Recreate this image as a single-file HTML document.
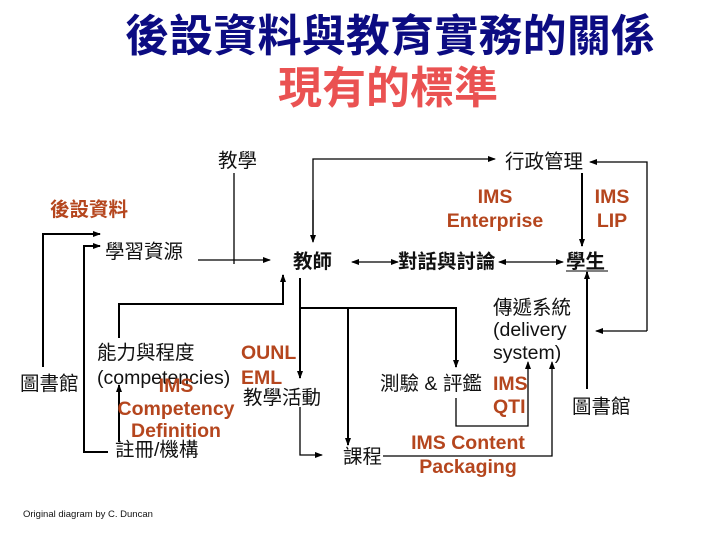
<!DOCTYPE html>
<html><head><meta charset="utf-8"><style>
html,body{margin:0;padding:0;background:#fff;width:720px;height:540px;overflow:hidden}
svg{display:block}
text{font-family:"Liberation Sans","Noto Sans CJK TC",sans-serif}
.t{font-size:19.5px;fill:#111}
.o{font-size:19.5px;font-weight:bold;fill:#b5461e}
</style></head><body>
<svg width="720" height="540" viewBox="0 0 720 540">
<defs>
<marker id="a" markerWidth="8" markerHeight="8" refX="7" refY="4" orient="auto" markerUnits="userSpaceOnUse"><path d="M0,1 L8,4 L0,7 z" fill="#000"/></marker>
<marker id="s" markerWidth="8" markerHeight="8" refX="1" refY="4" orient="auto" markerUnits="userSpaceOnUse"><path d="M8,1 L0,4 L8,7 z" fill="#000"/></marker>
</defs>
<text x="390" y="51" text-anchor="middle" font-size="44" font-weight="bold" fill="#0c0c82" textLength="530">後設資料與教育實務的關係</text>
<text x="388" y="103" text-anchor="middle" font-size="44" font-weight="bold" fill="#ea5252" textLength="220">現有的標準</text>

<g fill="none" stroke="#000" stroke-width="1.3">
<line x1="234" y1="173" x2="234" y2="264"/>
<line x1="198" y1="260" x2="270" y2="260" marker-end="url(#a)"/>
<polyline points="313,242 313,159 495,159" marker-end="url(#a)"/>
<line x1="313" y1="200" x2="313" y2="242" marker-end="url(#a)"/>
<polyline points="300,407 300,455 322,455" marker-end="url(#a)"/>
<polyline points="456,398 456,426 528,426 528,362" marker-end="url(#a)"/>
<polyline points="383,456 552,456 552,362" marker-end="url(#a)"/>
<line x1="352" y1="262" x2="398" y2="262" marker-start="url(#s)" marker-end="url(#a)"/>
<line x1="499" y1="262" x2="563" y2="262" marker-start="url(#s)" marker-end="url(#a)"/>
<polyline points="647,331 647,162 590,162" marker-end="url(#a)"/>
<line x1="647" y1="331" x2="596" y2="331" marker-end="url(#a)"/>
</g>
<g fill="none" stroke="#000" stroke-width="2">
<polyline points="43,367 43,234 100,234" marker-end="url(#a)"/>
<polyline points="108,452 84,452 84,246 100,246" marker-end="url(#a)"/>
<polyline points="119,338 119,304 283,304 283,275" marker-end="url(#a)"/>
<line x1="119" y1="442" x2="119" y2="385" marker-end="url(#a)"/>
<line x1="300" y1="278" x2="300" y2="378" marker-end="url(#a)"/>
<polyline points="300,308 456,308 456,367" marker-end="url(#a)"/>
<line x1="348" y1="308" x2="348" y2="445" marker-end="url(#a)"/>
<line x1="582" y1="173" x2="582" y2="246" marker-end="url(#a)"/>
<line x1="587" y1="389" x2="587" y2="272" marker-end="url(#a)"/>
</g>

<text class="t" x="218" y="167">教學</text>
<text class="t" x="505" y="168">行政管理</text>
<text class="o" x="50" y="216">後設資料</text>
<text class="o" x="495" y="203" text-anchor="middle">IMS</text>
<text class="o" x="495" y="227" text-anchor="middle">Enterprise</text>
<text class="o" x="612" y="203" text-anchor="middle">IMS</text>
<text class="o" x="612" y="227" text-anchor="middle">LIP</text>
<text class="t" x="105" y="258">學習資源</text>
<text class="t" x="293" y="268" font-weight="bold" font-size="20">教師</text>
<text class="t" x="398" y="268" font-weight="bold" font-size="20">對話與討論</text>
<text class="t" x="566" y="268" font-weight="bold" font-size="20">學生</text>
<line x1="566" y1="271" x2="608" y2="271" stroke="#000" stroke-width="1"/>
<text class="t" x="493" y="314">傳遞系統</text>
<text class="t" x="493" y="336">(delivery</text>
<text class="t" x="493" y="359">system)</text>
<text class="t" x="97" y="359">能力與程度</text>
<text class="t" x="97" y="384">(competencies)</text>
<text class="o" x="241" y="359">OUNL</text>
<text class="o" x="241" y="384">EML</text>
<text class="t" x="20" y="390">圖書館</text>
<text class="o" x="176" y="392" text-anchor="middle">IMS</text>
<text class="o" x="176" y="415" text-anchor="middle">Competency</text>
<text class="o" x="176" y="437" text-anchor="middle">Definition</text>
<text class="t" x="243" y="404">教學活動</text>
<text class="t" x="115" y="456">註冊/機構</text>
<text class="t" x="380" y="390">測驗 &amp; 評鑑</text>
<text class="o" x="493" y="390">IMS</text>
<text class="o" x="493" y="413">QTI</text>
<text class="t" x="572" y="413">圖書館</text>
<text class="t" x="343" y="463">課程</text>
<text class="o" x="468" y="449" text-anchor="middle">IMS Content</text>
<text class="o" x="468" y="473" text-anchor="middle">Packaging</text>
<text x="23" y="517" font-size="9.5" fill="#111">Original diagram by C. Duncan</text>
</svg>
</body></html>
